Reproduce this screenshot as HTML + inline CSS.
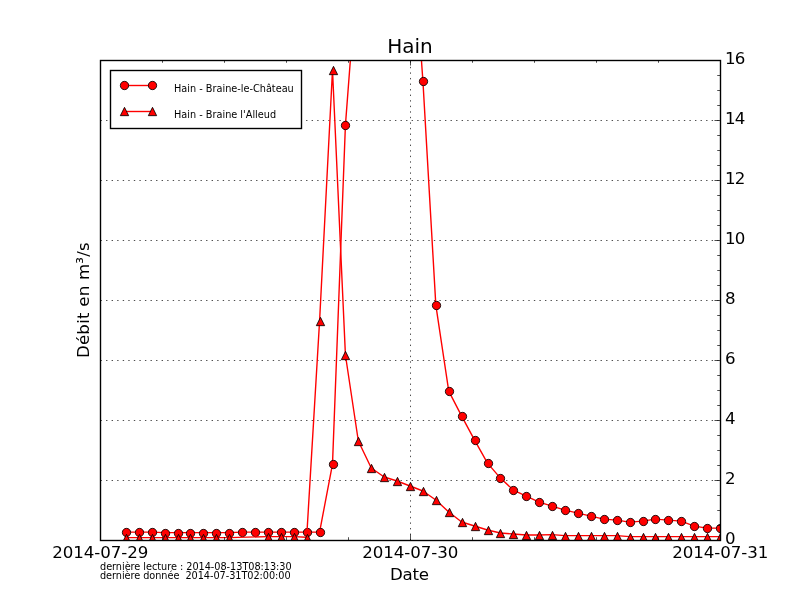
<!DOCTYPE html>
<html><head><meta charset="utf-8"><title>Hain</title>
<style>html,body{margin:0;padding:0;background:#fff;}svg{display:block}text{font-family:"DejaVu Sans","Liberation Sans",sans-serif;fill:#000}</style>
</head><body>
<svg width="800" height="600" viewBox="0 0 800 600">
<rect x="0" y="0" width="800" height="600" fill="#ffffff"/>
<defs><clipPath id="ax"><rect x="100" y="60" width="620" height="480"/></clipPath></defs>
<g stroke="#000" stroke-width="0.694" stroke-dasharray="1.389 4.167" fill="none">
<path d="M100.5 480.5 H720.5"/>
<path d="M100.5 420.5 H720.5"/>
<path d="M100.5 360.5 H720.5"/>
<path d="M100.5 300.5 H720.5"/>
<path d="M100.5 240.5 H720.5"/>
<path d="M100.5 180.5 H720.5"/>
<path d="M100.5 120.5 H720.5"/>
<path d="M410.5 540.5 V60.5"/>
</g>
<g clip-path="url(#ax)">
<path d="M125.83 532.10 L138.75 532.10 L151.67 532.10 L164.58 532.60 L177.50 532.60 L190.42 532.60 L203.33 532.60 L216.25 532.60 L229.17 532.60 L242.08 532.10 L255.00 532.10 L267.92 532.10 L280.83 532.10 L293.75 532.10 L306.67 532.10 L319.58 532.10 L332.50 464.10 L345.42 125.10 L358.33 -44.40 L371.25 -200.40 L384.17 -260.40 L397.08 -200.40 L410.00 -100.40 L422.92 81.10 L435.83 305.10 L448.75 391.10 L461.67 416.10 L474.58 440.10 L487.50 463.10 L500.42 478.10 L513.33 490.10 L526.25 496.10 L539.17 502.10 L552.08 506.10 L565.00 510.10 L577.92 513.10 L590.83 516.10 L603.75 519.10 L616.67 520.10 L629.58 522.10 L642.50 521.10 L655.42 519.10 L668.33 520.10 L681.25 521.10 L694.17 526.10 L707.08 528.10 L720.00 528.10 L732.92 528.10 L745.83 529.10" fill="none" stroke="#ff0000" stroke-width="1.389" stroke-linejoin="round"/>
<g fill="#ff0000" stroke="#000" stroke-width="0.833">
<circle cx="126.5" cy="532.5" r="4.17"/>
<circle cx="139.5" cy="532.5" r="4.17"/>
<circle cx="152.5" cy="532.5" r="4.17"/>
<circle cx="165.5" cy="533.5" r="4.17"/>
<circle cx="178.5" cy="533.5" r="4.17"/>
<circle cx="190.5" cy="533.5" r="4.17"/>
<circle cx="203.5" cy="533.5" r="4.17"/>
<circle cx="216.5" cy="533.5" r="4.17"/>
<circle cx="229.5" cy="533.5" r="4.17"/>
<circle cx="242.5" cy="532.5" r="4.17"/>
<circle cx="255.5" cy="532.5" r="4.17"/>
<circle cx="268.5" cy="532.5" r="4.17"/>
<circle cx="281.5" cy="532.5" r="4.17"/>
<circle cx="294.5" cy="532.5" r="4.17"/>
<circle cx="307.5" cy="532.5" r="4.17"/>
<circle cx="320.5" cy="532.5" r="4.17"/>
<circle cx="333.5" cy="464.5" r="4.17"/>
<circle cx="345.5" cy="125.5" r="4.17"/>
<circle cx="423.5" cy="81.5" r="4.17"/>
<circle cx="436.5" cy="305.5" r="4.17"/>
<circle cx="449.5" cy="391.5" r="4.17"/>
<circle cx="462.5" cy="416.5" r="4.17"/>
<circle cx="475.5" cy="440.5" r="4.17"/>
<circle cx="488.5" cy="463.5" r="4.17"/>
<circle cx="500.5" cy="478.5" r="4.17"/>
<circle cx="513.5" cy="490.5" r="4.17"/>
<circle cx="526.5" cy="496.5" r="4.17"/>
<circle cx="539.5" cy="502.5" r="4.17"/>
<circle cx="552.5" cy="506.5" r="4.17"/>
<circle cx="565.5" cy="510.5" r="4.17"/>
<circle cx="578.5" cy="513.5" r="4.17"/>
<circle cx="591.5" cy="516.5" r="4.17"/>
<circle cx="604.5" cy="519.5" r="4.17"/>
<circle cx="617.5" cy="520.5" r="4.17"/>
<circle cx="630.5" cy="522.5" r="4.17"/>
<circle cx="643.5" cy="521.5" r="4.17"/>
<circle cx="655.5" cy="519.5" r="4.17"/>
<circle cx="668.5" cy="520.5" r="4.17"/>
<circle cx="681.5" cy="521.5" r="4.17"/>
<circle cx="694.5" cy="526.5" r="4.17"/>
<circle cx="707.5" cy="528.5" r="4.17"/>
<circle cx="720.5" cy="528.5" r="4.17"/>
<circle cx="733.5" cy="528.5" r="4.17"/>
<circle cx="746.5" cy="529.5" r="4.17"/>
</g>
<path d="M125.83 537.60 L138.75 537.60 L151.67 537.60 L164.58 537.60 L177.50 537.60 L190.42 537.60 L203.33 537.60 L216.25 537.60 L229.17 537.60 L267.92 536.60 L280.83 536.60 L293.75 536.60 L306.67 537.30 L319.58 321.00 L332.50 70.00 L345.42 355.00 L358.33 441.00 L371.25 468.00 L384.17 477.00 L397.08 481.00 L410.00 486.00 L422.92 491.00 L435.83 500.00 L448.75 512.00 L461.67 522.00 L474.58 526.00 L487.50 530.00 L500.42 533.00 L513.33 534.00 L526.25 535.00 L539.17 535.00 L552.08 534.60 L565.00 535.60 L577.92 535.60 L590.83 535.60 L603.75 535.60 L616.67 535.60 L629.58 536.60 L642.50 536.60 L655.42 536.60 L668.33 536.60 L681.25 536.60 L694.17 536.60 L707.08 536.60 L720.00 536.60 L732.92 536.60 L745.83 536.60" fill="none" stroke="#ff0000" stroke-width="1.389" stroke-linejoin="round"/>
<g fill="#ff0000" stroke="#000" stroke-width="0.833" stroke-linejoin="miter">
<path d="M126.5 534.33 L122.33 542.67 L130.67 542.67 Z"/>
<path d="M139.5 534.33 L135.33 542.67 L143.67 542.67 Z"/>
<path d="M152.5 534.33 L148.33 542.67 L156.67 542.67 Z"/>
<path d="M165.5 534.33 L161.33 542.67 L169.67 542.67 Z"/>
<path d="M178.5 534.33 L174.33 542.67 L182.67 542.67 Z"/>
<path d="M190.5 534.33 L186.33 542.67 L194.67 542.67 Z"/>
<path d="M203.5 534.33 L199.33 542.67 L207.67 542.67 Z"/>
<path d="M216.5 534.33 L212.33 542.67 L220.67 542.67 Z"/>
<path d="M229.5 534.33 L225.33 542.67 L233.67 542.67 Z"/>
<path d="M268.5 533.33 L264.33 541.67 L272.67 541.67 Z"/>
<path d="M281.5 533.33 L277.33 541.67 L285.67 541.67 Z"/>
<path d="M294.5 533.33 L290.33 541.67 L298.67 541.67 Z"/>
<path d="M307.5 534.33 L303.33 542.67 L311.67 542.67 Z"/>
<path d="M320.5 317.33 L316.33 325.67 L324.67 325.67 Z"/>
<path d="M333.5 66.33 L329.33 74.67 L337.67 74.67 Z"/>
<path d="M345.5 351.33 L341.33 359.67 L349.67 359.67 Z"/>
<path d="M358.5 437.33 L354.33 445.67 L362.67 445.67 Z"/>
<path d="M371.5 464.33 L367.33 472.67 L375.67 472.67 Z"/>
<path d="M384.5 473.33 L380.33 481.67 L388.67 481.67 Z"/>
<path d="M397.5 477.33 L393.33 485.67 L401.67 485.67 Z"/>
<path d="M410.5 482.33 L406.33 490.67 L414.67 490.67 Z"/>
<path d="M423.5 487.33 L419.33 495.67 L427.67 495.67 Z"/>
<path d="M436.5 496.33 L432.33 504.67 L440.67 504.67 Z"/>
<path d="M449.5 508.33 L445.33 516.67 L453.67 516.67 Z"/>
<path d="M462.5 518.33 L458.33 526.67 L466.67 526.67 Z"/>
<path d="M475.5 522.33 L471.33 530.67 L479.67 530.67 Z"/>
<path d="M488.5 526.33 L484.33 534.67 L492.67 534.67 Z"/>
<path d="M500.5 529.33 L496.33 537.67 L504.67 537.67 Z"/>
<path d="M513.5 530.33 L509.33 538.67 L517.67 538.67 Z"/>
<path d="M526.5 531.33 L522.33 539.67 L530.67 539.67 Z"/>
<path d="M539.5 531.33 L535.33 539.67 L543.67 539.67 Z"/>
<path d="M552.5 531.33 L548.33 539.67 L556.67 539.67 Z"/>
<path d="M565.5 532.33 L561.33 540.67 L569.67 540.67 Z"/>
<path d="M578.5 532.33 L574.33 540.67 L582.67 540.67 Z"/>
<path d="M591.5 532.33 L587.33 540.67 L595.67 540.67 Z"/>
<path d="M604.5 532.33 L600.33 540.67 L608.67 540.67 Z"/>
<path d="M617.5 532.33 L613.33 540.67 L621.67 540.67 Z"/>
<path d="M630.5 533.33 L626.33 541.67 L634.67 541.67 Z"/>
<path d="M643.5 533.33 L639.33 541.67 L647.67 541.67 Z"/>
<path d="M655.5 533.33 L651.33 541.67 L659.67 541.67 Z"/>
<path d="M668.5 533.33 L664.33 541.67 L672.67 541.67 Z"/>
<path d="M681.5 533.33 L677.33 541.67 L685.67 541.67 Z"/>
<path d="M694.5 533.33 L690.33 541.67 L698.67 541.67 Z"/>
<path d="M707.5 533.33 L703.33 541.67 L711.67 541.67 Z"/>
<path d="M720.5 533.33 L716.33 541.67 L724.67 541.67 Z"/>
<path d="M733.5 533.33 L729.33 541.67 L737.67 541.67 Z"/>
<path d="M746.5 533.33 L742.33 541.67 L750.67 541.67 Z"/>
</g>
</g>
<g stroke="#000" stroke-width="0.694" fill="none">
<path d="M100.5 540 v-5.55556 M100.5 60 v5.55556"/>
<path d="M162.5 540 v-2.77778 M162.5 60 v2.77778"/>
<path d="M224.5 540 v-2.77778 M224.5 60 v2.77778"/>
<path d="M286.5 540 v-2.77778 M286.5 60 v2.77778"/>
<path d="M348.5 540 v-2.77778 M348.5 60 v2.77778"/>
<path d="M410.5 540 v-5.55556 M410.5 60 v5.55556"/>
<path d="M472.5 540 v-2.77778 M472.5 60 v2.77778"/>
<path d="M534.5 540 v-2.77778 M534.5 60 v2.77778"/>
<path d="M596.5 540 v-2.77778 M596.5 60 v2.77778"/>
<path d="M658.5 540 v-2.77778 M658.5 60 v2.77778"/>
<path d="M720.5 540 v-5.55556 M720.5 60 v5.55556"/>
<path d="M720 540.5 h-5.55556"/>
<path d="M720 525.5 h-2.77778"/>
<path d="M720 510.5 h-2.77778"/>
<path d="M720 495.5 h-2.77778"/>
<path d="M720 480.5 h-5.55556"/>
<path d="M720 465.5 h-2.77778"/>
<path d="M720 450.5 h-2.77778"/>
<path d="M720 435.5 h-2.77778"/>
<path d="M720 420.5 h-5.55556"/>
<path d="M720 405.5 h-2.77778"/>
<path d="M720 390.5 h-2.77778"/>
<path d="M720 375.5 h-2.77778"/>
<path d="M720 360.5 h-5.55556"/>
<path d="M720 345.5 h-2.77778"/>
<path d="M720 330.5 h-2.77778"/>
<path d="M720 315.5 h-2.77778"/>
<path d="M720 300.5 h-5.55556"/>
<path d="M720 285.5 h-2.77778"/>
<path d="M720 270.5 h-2.77778"/>
<path d="M720 255.5 h-2.77778"/>
<path d="M720 240.5 h-5.55556"/>
<path d="M720 225.5 h-2.77778"/>
<path d="M720 210.5 h-2.77778"/>
<path d="M720 195.5 h-2.77778"/>
<path d="M720 180.5 h-5.55556"/>
<path d="M720 165.5 h-2.77778"/>
<path d="M720 150.5 h-2.77778"/>
<path d="M720 135.5 h-2.77778"/>
<path d="M720 120.5 h-5.55556"/>
<path d="M720 105.5 h-2.77778"/>
<path d="M720 90.5 h-2.77778"/>
<path d="M720 75.5 h-2.77778"/>
<path d="M720 60.5 h-5.55556"/>
</g>
<rect x="100.5" y="60.5" width="620" height="480" fill="none" stroke="#000" stroke-width="1.389"/>
<rect x="110.5" y="70.5" width="191" height="58" fill="#fff" stroke="#000" stroke-width="1.389"/>
<path d="M124.5 85.5 H152.5" stroke="#f00" stroke-width="1.389"/>
<g fill="#ff0000" stroke="#000" stroke-width="0.833">
<circle cx="124.5" cy="85.5" r="4.17"/>
<circle cx="152.5" cy="85.5" r="4.17"/>
</g>
<path d="M124.5 111.5 H152.5" stroke="#f00" stroke-width="1.389"/>
<g fill="#ff0000" stroke="#000" stroke-width="0.833">
<path d="M124.5 107.33 L120.33 115.67 L128.67 115.67 Z"/>
<path d="M152.5 107.33 L148.33 115.67 L156.67 115.67 Z"/>
</g>
<text x="174" y="92" font-size="9.722">Hain - Braine-le-Château</text>
<text x="174" y="118" font-size="9.722">Hain - Braine l'Alleud</text>
<text x="410" y="52.5" font-size="20.000" text-anchor="middle">Hain</text>
<text x="390.1" y="580" font-size="16.667" letter-spacing="-0.3">Date</text>
<text transform="translate(89.2 300.1) rotate(-90)" font-size="16.667" text-anchor="middle" letter-spacing="0.2">Débit en m³/s</text>
<text x="100.3" y="557.5" font-size="16.667" text-anchor="middle" letter-spacing="-0.07">2014-07-29</text>
<text x="410.3" y="557.5" font-size="16.667" text-anchor="middle" letter-spacing="-0.07">2014-07-30</text>
<text x="720.3" y="557.5" font-size="16.667" text-anchor="middle" letter-spacing="-0.07">2014-07-31</text>
<text x="725" y="544" font-size="16.667" letter-spacing="-0.8">0</text>
<text x="725" y="484" font-size="16.667" letter-spacing="-0.8">2</text>
<text x="725" y="424" font-size="16.667" letter-spacing="-0.8">4</text>
<text x="725" y="364" font-size="16.667" letter-spacing="-0.8">6</text>
<text x="725" y="304" font-size="16.667" letter-spacing="-0.8">8</text>
<text x="725" y="244" font-size="16.667" letter-spacing="-0.8">10</text>
<text x="725" y="184" font-size="16.667" letter-spacing="-0.8">12</text>
<text x="725" y="124" font-size="16.667" letter-spacing="-0.8">14</text>
<text x="725" y="64" font-size="16.667" letter-spacing="-0.8">16</text>
<text x="100" y="570.2" font-size="9.722" textLength="191.7">dernière lecture : 2014-08-13T08:13:30</text>
<text x="100" y="578.7" font-size="9.722" xml:space="preserve" style="white-space:pre" textLength="190.6">dernière donnée  2014-07-31T02:00:00</text>
</svg></body></html>
